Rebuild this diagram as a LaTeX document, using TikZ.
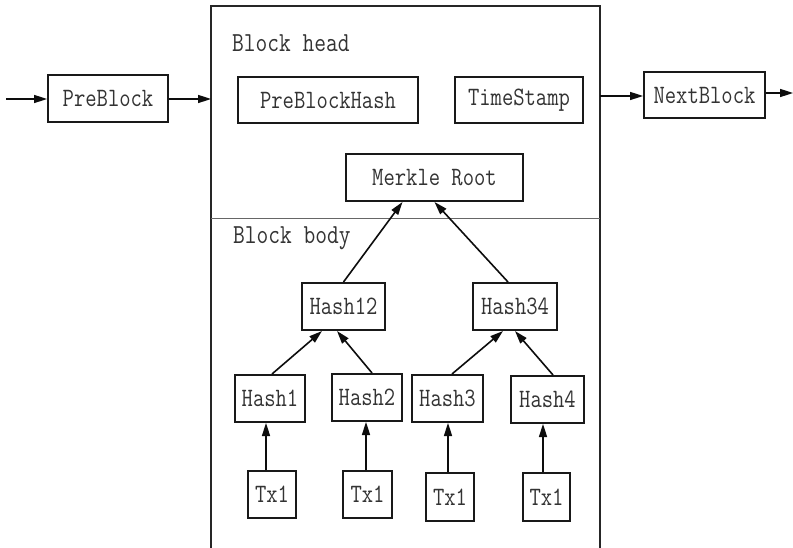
\documentclass[tikz,border=0pt]{standalone}
\usepackage{fontspec}
\setmonofont[FakeStretch=0.83]{Latin Modern Mono}
\usetikzlibrary{arrows.meta}
\tikzset{
  box/.style={draw=black!90, line width=2pt, inner sep=0pt, fill=white,
    font=\ttfamily\fontsize{26.5}{26.5}\selectfont, text=black!80},
  lbl/.style={inner sep=0pt, font=\ttfamily\fontsize{27.5}{27.5}\selectfont, text=black!80},
  arr/.style={draw=black!95, line width=1.6pt, -{Triangle[length=13pt,width=8pt]}},
  frame/.style={draw=black!85, line width=2pt},
  divider/.style={draw=black!60, line width=1pt}
}
\begin{document}
\begin{tikzpicture}[x=1pt,y=-1pt]
\useasboundingbox (0,0) rectangle (793,548);
\fill[white] (0,0) rectangle (793,548);

% block frame and head/body divider
\draw[frame] (211,548) -- (211,6) -- (600,6) -- (600,548);
\draw[divider] (211,219) -- (600,219);

\node[lbl, anchor=west] (headlbl) at (232,43) {Block head};
\node[lbl, anchor=west] (bodylbl) at (233,238) {Block body};

% chain neighbours
\node[box, minimum width=120pt, minimum height=47pt] (pre) at (108,98.5) {PreBlock};
\node[box, minimum width=121pt, minimum height=46pt] (next) at (704.5,95) {NextBlock};

% header fields
\node[box, minimum width=180pt, minimum height=46pt] (pbh) at (328,100) {PreBlockHash};
\node[box, minimum width=128pt, minimum height=46pt] (ts) at (519,100) {TimeStamp};
\node[box, minimum width=177pt, minimum height=47pt] (root) at (434.5,177.5) {Merkle Root};

% Merkle tree
\node[box, minimum width=83pt, minimum height=47pt] (h12) at (343.5,306.5) {Hash12};
\node[box, minimum width=84pt, minimum height=47pt] (h34) at (515,306.5) {Hash34};
\node[box, minimum width=70pt, minimum height=47pt] (h1) at (270,398.5) {Hash1};
\node[box, minimum width=70pt, minimum height=47pt] (h2) at (367,397.5) {Hash2};
\node[box, minimum width=71pt, minimum height=47pt] (h3) at (447.5,398.5) {Hash3};
\node[box, minimum width=73pt, minimum height=47pt] (h4) at (547.5,399.5) {Hash4};
\node[box, minimum width=48pt, minimum height=47pt] (t1) at (272,494.5) {Tx1};
\node[box, minimum width=49pt, minimum height=47pt] (t2) at (367.5,494.5) {Tx1};
\node[box, minimum width=48pt, minimum height=48pt] (t3) at (450,497) {Tx1};
\node[box, minimum width=47pt, minimum height=48pt] (t4) at (546.5,497) {Tx1};

% chain arrows
\coordinate (src) at (6,99);
\coordinate (inb) at (211,99);
\coordinate (outb) at (600,96);
\coordinate (dst) at (793,93);
\draw[arr] (src) -- (pre.west |- src);
\draw[arr] (pre.east |- inb) -- (inb);
\draw[arr] (outb) -- (next.west |- outb);
\draw[arr] (next.east |- dst) -- (dst);

% tree arrows
\draw[arr] (h12.north) -- ([xshift=-32pt]root.south);
\draw[arr] ([xshift=-7pt]h34.north) -- (root.south);
\draw[arr] ([xshift=2pt]h1.north) -- ([xshift=-21.5pt]h12.south);
\draw[arr] ([xshift=5pt]h2.north) -- ([xshift=-6.5pt]h12.south);
\draw[arr] ([xshift=4.5pt]h3.north) -- ([xshift=-12pt]h34.south);
\draw[arr] ([xshift=5.5pt]h4.north) -- (h34.south);

\coordinate (a1) at (266,0);
\coordinate (a2) at (366,0);
\coordinate (a3) at (448,0);
\coordinate (a4) at (543,0);
\draw[arr] (t1.north -| a1) -- (h1.south -| a1);
\draw[arr] (t2.north -| a2) -- (h2.south -| a2);
\draw[arr] (t3.north -| a3) -- (h3.south -| a3);
\draw[arr] (t4.north -| a4) -- (h4.south -| a4);
\end{tikzpicture}
\end{document}
